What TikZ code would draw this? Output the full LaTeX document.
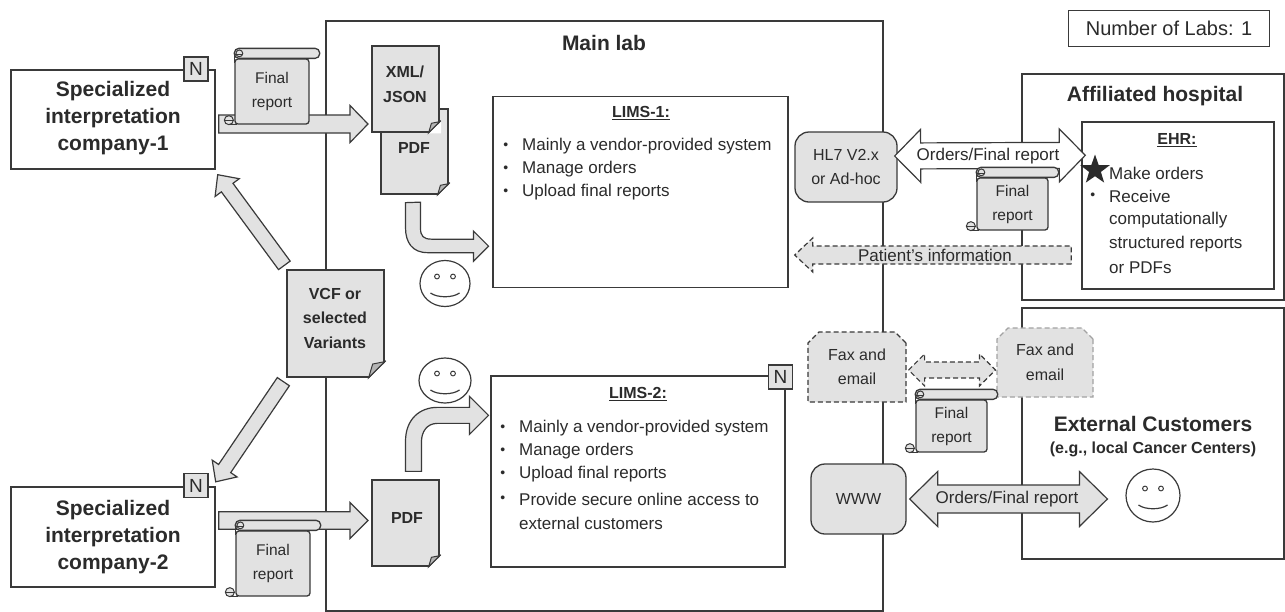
\documentclass[tikz,border=0pt]{standalone}
\usepackage{fontspec}
\setmainfont{Liberation Sans}
\usetikzlibrary{calc, shapes.geometric, shapes.misc}

\definecolor{inkline}{HTML}{3A3A3A}
\definecolor{inktext}{HTML}{2B2B2B}
\definecolor{panelgrey}{HTML}{E2E2E2}
\definecolor{foldgrey}{HTML}{B4B4B4}

\tikzset{
	every node/.style = {text = inktext, inner sep = 0pt, align = center},
	plainbox/.style = {draw = inkline, line width = 1.4pt, fill = white, rectangle},
	badge/.style = {draw = inkline, line width = 1.4pt, fill = panelgrey, minimum size = 24pt, font = \fontsize{19}{22}\selectfont},
	docpage/.style = {draw = inkline, line width = 1.3pt, fill = panelgrey, rectangle},
	greybox/.style = {draw = inkline, line width = 1.3pt, fill = panelgrey, rounded corners = 14pt, font = \fontsize{16}{24.5}\selectfont},
	faxbox/.style = {draw = inkline, line width = 1.2pt, dash pattern = on 5pt off 3pt, fill = panelgrey, chamfered rectangle, chamfered rectangle corners = {north west, north east}, chamfered rectangle xsep = 6pt, chamfered rectangle ysep = 5pt, font = \fontsize{16}{24.5}\selectfont},
	scrollbody/.style = {draw = inkline, line width = 1.3pt, fill = panelgrey, rounded corners = 3pt, font = \fontsize{15.5}{24}\selectfont},
	blockshape/.style = {draw = inkline, line width = 1.2pt, fill = panelgrey},
	blockwhite/.style = {draw = inkline, line width = 1.2pt, fill = white},
	blockdash/.style = {draw = inkline, line width = 1.2pt, dash pattern = on 5pt off 3pt, fill = panelgrey},
	facering/.style = {draw = inkline, line width = 1.2pt, ellipse},
	bigbold/.style = {font = \fontsize{21}{27}\selectfont\bfseries},
	midbold/.style = {font = \fontsize{16}{24.5}\selectfont\bfseries},
	subbold/.style = {font = \fontsize{16}{20}\selectfont\bfseries},
	arrowtext/.style = {font = \fontsize{17}{20}\selectfont},
	listline/.style = {anchor = west, align = left, font = \fontsize{17}{20}\selectfont},
	bulletline/.style = {listline, label = {[font = \fontsize{14}{14}\selectfont, label distance = 13.5pt]left:\textbullet}}
}

\newcommand{\foldcorner}[2]{
	\fill [white] ([shift = {(-#2,0.8)}]#1.south east) -- ([shift = {(1.5,0.8)}]#1.south east) -- ([shift = {(1.5,-#2)}]#1.south east) -- cycle;
	\draw [inkline, line width = 1.2pt] (#1.south east) ++(-#2,0) -- ++(#2+1,-#2-1);
	\draw [inkline, line width = 1pt, fill = foldgrey] ([xshift = -#2 pt]#1.south east) -- ([yshift = #2 pt]#1.south east) -- ([shift = {(-0.75*#2,-0.85*#2)}]#1.south east) -- cycle;
	\draw [inkline, line width = 1.3pt] ([xshift = -#2 pt]#1.south east) -- (#1.south west);
	\draw [inkline, line width = 1.3pt] ([yshift = #2 pt]#1.south east) -- (#1.north east);
}

\newcommand{\scrollends}[1]{
	\draw [inkline, line width = 1.3pt, fill = panelgrey, rounded corners = 4.5pt] ([shift = {(0,-10)}]#1.north west) rectangle ([shift = {(10,0)}]#1.north east);
	\draw [inkline, line width = 1.3pt] ([shift = {(0,-5)}]#1.north west) -- ([shift = {(0,5)}]#1.north west);
	\draw [inkline, line width = 1pt] ([shift = {(5,-5)}]#1.north west) circle (3.4pt);
	\draw [inkline, line width = 1pt] ([shift = {(1,-4)}]#1.north west) -- ([shift = {(9,-4)}]#1.north west);
	\draw [inkline, line width = 1pt, fill = panelgrey] ([shift = {(-5.5,-4.5)}]#1.south west) circle (4.5pt);
	\draw [inkline, line width = 1pt] ([shift = {(-10,-4.5)}]#1.south west) -- ([shift = {(0,-4.5)}]#1.south west);
	\draw [inkline, line width = 1.3pt] ([xshift = -5.5pt]#1.south west) -- ([xshift = 3pt]#1.south west);
}

\newcommand{\smiley}[5]{
	\node [facering, minimum width = #4 pt, minimum height = #5 pt] (#1) at (#2,#3) {};
	\draw [inkline, line width = 1pt] ([shift = {(-8,-7)}]#1.center) circle (2.4pt);
	\draw [inkline, line width = 1pt] ([shift = {(8,-7)}]#1.center) circle (2.4pt);
	\draw [inkline, line width = 1.2pt] ([shift = {(-14.5,9.5)}]#1.center) .. controls +(7,5) and +(-7,5) .. ([shift = {(14.5,9.5)}]#1.center);
}

\newcommand{\blockarrow}[6]{
	\coordinate (ba) at #2;
	\coordinate (bb) at #3;
	\coordinate (bh) at ($(bb)!#6!(ba)$);
	\path [#1] ($(ba)!#4!90:(bb)$) -- ($(bh)!#4!90:(bb)$) -- ($(bh)!#5!90:(bb)$) -- (bb) -- ($(bh)!#5!-90:(bb)$) -- ($(bh)!#4!-90:(bb)$) -- ($(ba)!#4!-90:(bb)$) -- cycle;
}

\newcommand{\blockdouble}[6]{
	\coordinate (ba) at #2;
	\coordinate (bb) at #3;
	\coordinate (bh) at ($(bb)!#6!(ba)$);
	\coordinate (bk) at ($(ba)!#6!(bb)$);
	\path [#1] (ba) -- ($(bk)!#5!90:(bb)$) -- ($(bk)!#4!90:(bb)$) -- ($(bh)!#4!90:(bb)$) -- ($(bh)!#5!90:(bb)$) -- (bb) -- ($(bh)!#5!-90:(bb)$) -- ($(bh)!#4!-90:(bb)$) -- ($(bk)!#4!-90:(bb)$) -- ($(bk)!#5!-90:(bb)$) -- cycle;
}

\begin{document}
\begin{tikzpicture}[x = 1pt, y = -1pt]
	\useasboundingbox (0,0) rectangle (1285,611);

	\node [plainbox, minimum width = 557pt, minimum height = 590pt] (mainlab) at (604.5,316) {};
	\node [bigbold] (mainlabtitle) at (604,43) {Main lab};
	\node [plainbox, minimum width = 262pt, minimum height = 226pt] (hospital) at (1153,187) {};
	\node [bigbold] (hospitaltitle) at (1155,96) {Affiliated hospital};
	\node [plainbox, minimum width = 262pt, minimum height = 251pt] (customers) at (1153,433.5) {};
	\node [bigbold] (customerstitle) at (1153,424) {External Customers};
	\node [subbold] (customerssub) at (1153,449) {(e.g., local Cancer Centers)};
	\node [plainbox, minimum width = 201pt, minimum height = 36pt, font = \fontsize{20}{22}\selectfont] (labcount) at (1169,28.5) {Number of Labs: 1};

	\node [plainbox, minimum width = 204pt, minimum height = 99pt] (companya) at (113,119.5) {};
	\node [bigbold] (companyatext) at (113,118.5) {Specialized\\interpretation\\company-1};
	\node [badge] (badgea) at (196,69) {N};
	\node [plainbox, minimum width = 204pt, minimum height = 100pt] (companyb) at (113,537) {};
	\node [bigbold] (companybtext) at (113,537) {Specialized\\interpretation\\company-2};
	\node [badge] (badgeb) at (196,485.5) {N};

	\node [plainbox, minimum width = 295pt, minimum height = 191pt] (limsa) at (640.5,192) {};
	\node [midbold] (limsatitle) at (641,113) {\underline{LIMS-1:}};
	\node [bulletline] (limsaone) at (522,146.5) {Mainly a vendor-provided system};
	\node [bulletline] (limsatwo) at (522,169.5) {Manage orders};
	\node [bulletline] (limsathree) at (522,192.5) {Upload final reports};

	\node [plainbox, minimum width = 294pt, minimum height = 191pt] (limsb) at (638,471.5) {};
	\node [badge] (badgec) at (780.5,377) {N};
	\node [midbold] (limsbtitle) at (638,394) {\underline{LIMS-2:}};
	\node [bulletline] (limsbone) at (519,428) {Mainly a vendor-provided system};
	\node [bulletline] (limsbtwo) at (519,451) {Manage orders};
	\node [bulletline] (limsbthree) at (519,474) {Upload final reports};
	\node [bulletline] (limsbfour) at (519,499) {Provide secure online access to};
	\node [listline] (limsbfive) at (519,523) {external customers};

	\node [plainbox, minimum width = 192pt, minimum height = 167pt] (ehr) at (1178,205.5) {};
	\node [midbold] (ehrtitle) at (1177,140) {\underline{EHR:}};
	\node [listline] (ehrone) at (1109,173) {Make orders};
	\node [bulletline] (ehrtwo) at (1109,196.5) {Receive};
	\node [listline] (ehrthree) at (1109,220) {computationally};
	\node [listline] (ehrfour) at (1109,244) {structured reports};
	\node [listline] (ehrfive) at (1109,268) {or PDFs};

	\blockarrow{blockshape}{([shift = {(3,4.5)}]companya.east)}{(368,124)}{9pt}{18.5pt}{18pt}
	\blockarrow{blockshape}{([shift = {(3,-16.5)}]companyb.east)}{(368,520.5)}{8.8pt}{18pt}{18pt}

	\node [docpage, minimum width = 67pt, minimum height = 85pt] (pdfa) at (414.5,151.5) {};
	\foldcorner{pdfa}{11}
	\node [midbold] (pdfatext) at (414,148) {PDF};
	\node [docpage, minimum width = 67pt, minimum height = 86pt] (xmldoc) at (405.5,89) {};
	\foldcorner{xmldoc}{11}
	\node [midbold] (xmldoctext) at (405,84.5) {XML/\\JSON};
	\node [docpage, minimum width = 67pt, minimum height = 86pt] (pdfb) at (405.5,523) {};
	\foldcorner{pdfb}{11}
	\node [midbold] (pdfbtext) at (407,518) {PDF};
	\node [docpage, minimum width = 97pt, minimum height = 107pt] (vcfdoc) at (335.5,323.5) {};
	\foldcorner{vcfdoc}{16}
	\node [midbold] (vcfdoctext) at (335,318) {VCF or\\selected\\Variants};

	\blockarrow{blockshape}{([shift = {(-2,-4)}]vcfdoc.north west)}{([shift = {(2,5)}]companya.south east)}{7.2pt}{15pt}{16pt}
	\blockarrow{blockshape}{([shift = {(-3,4)}]vcfdoc.south west)}{([shift = {(7,9)}]badgeb.north east)}{7.3pt}{15pt}{16pt}

	\path [blockshape] ([shift = {(-9,8)}]pdfa.south) -- ++(0,25) .. controls +(0,15) and +(-15,0) .. ++(22,25) -- ++(46,0) -- ++(0,8.5) -- ++(15,-15) -- ++(-15,-15) -- ++(0,8) -- ++(-42,0) .. controls +(-8,0) and +(0,8) .. ++(-11,-11) -- ++(0,-26) -- cycle;
	\path [blockshape] ([shift = {(0,-8)}]pdfb.north) -- ++(0,-30) .. controls +(0,-22) and +(-18,0) .. ++(32,-34) -- ++(32,0) -- ++(0,-11) -- ++(19,19) -- ++(-19,19) -- ++(0,-11) -- ++(-32,0) .. controls +(-11,0) and +(0,-9) .. ++(-16,18) -- ++(0,30) -- cycle;

	\smiley{facea}{445}{283.5}{50}{46}
	\smiley{faceb}{445}{380.5}{52}{45}
	\smiley{facec}{1153}{495.5}{54}{53}

	\node [greybox, minimum width = 102pt, minimum height = 70pt] (hlseven) at (846,167) {HL7 V2.x\\or Ad-hoc};
	\blockdouble{blockwhite}{([shift = {(-3,-11)}]hlseven.east)}{([shift = {(4,34)}]ehr.north west)}{13pt}{26.5pt}{26pt}
	\node [arrowtext] (ordersa) at (988,156) {Orders/Final report};
	\blockarrow{blockdash}{([shift = {(-10,49.5)}]ehr.west)}{([shift = {(6,63)}]limsa.east)}{9pt}{17pt}{18pt}
	\node [arrowtext] (patient) at (935,255) {Patient’s information};
	\node [scrollbody, minimum width = 71pt, minimum height = 52pt] (scrollc) at (1012.5,204) {Final\\report};
	\scrollends{scrollc}

	\node [star, star points = 5, star point ratio = 2.5, fill = inktext, minimum size = 31pt] (ehrstar) at (1095,170) {};

	\node [faxbox, minimum width = 98pt, minimum height = 70pt] (faxa) at (857,367) {Fax and\\email};
	\node [faxbox, draw = foldgrey!90!black, minimum width = 96pt, minimum height = 69pt] (faxb) at (1045,362.5) {Fax and\\email};
	\blockdouble{blockdash}{([shift = {(2,3)}]faxa.east)}{([shift = {(-1,7.5)}]faxb.west)}{8pt}{16pt}{16pt}
	\node [scrollbody, minimum width = 71pt, minimum height = 52pt] (scrolld) at (951.5,426) {Final\\report};
	\scrollends{scrolld}

	\node [greybox, minimum width = 95pt, minimum height = 70pt] (www) at (858.5,499) {WWW};
	\blockdouble{blockshape}{([xshift = 3pt]www.east)}{([shift = {(-18,3.5)}]facec.west)}{14pt}{27.5pt}{28pt}
	\node [arrowtext] (ordersb) at (1007,499) {Orders/Final report};

	\node [scrollbody, minimum width = 74pt, minimum height = 65pt] (scrolla) at (272,91.5) {Final\\report};
	\scrollends{scrolla}
	\node [scrollbody, minimum width = 74pt, minimum height = 65pt] (scrollb) at (273,563.5) {Final\\report};
	\scrollends{scrollb}
\end{tikzpicture}
\end{document}
